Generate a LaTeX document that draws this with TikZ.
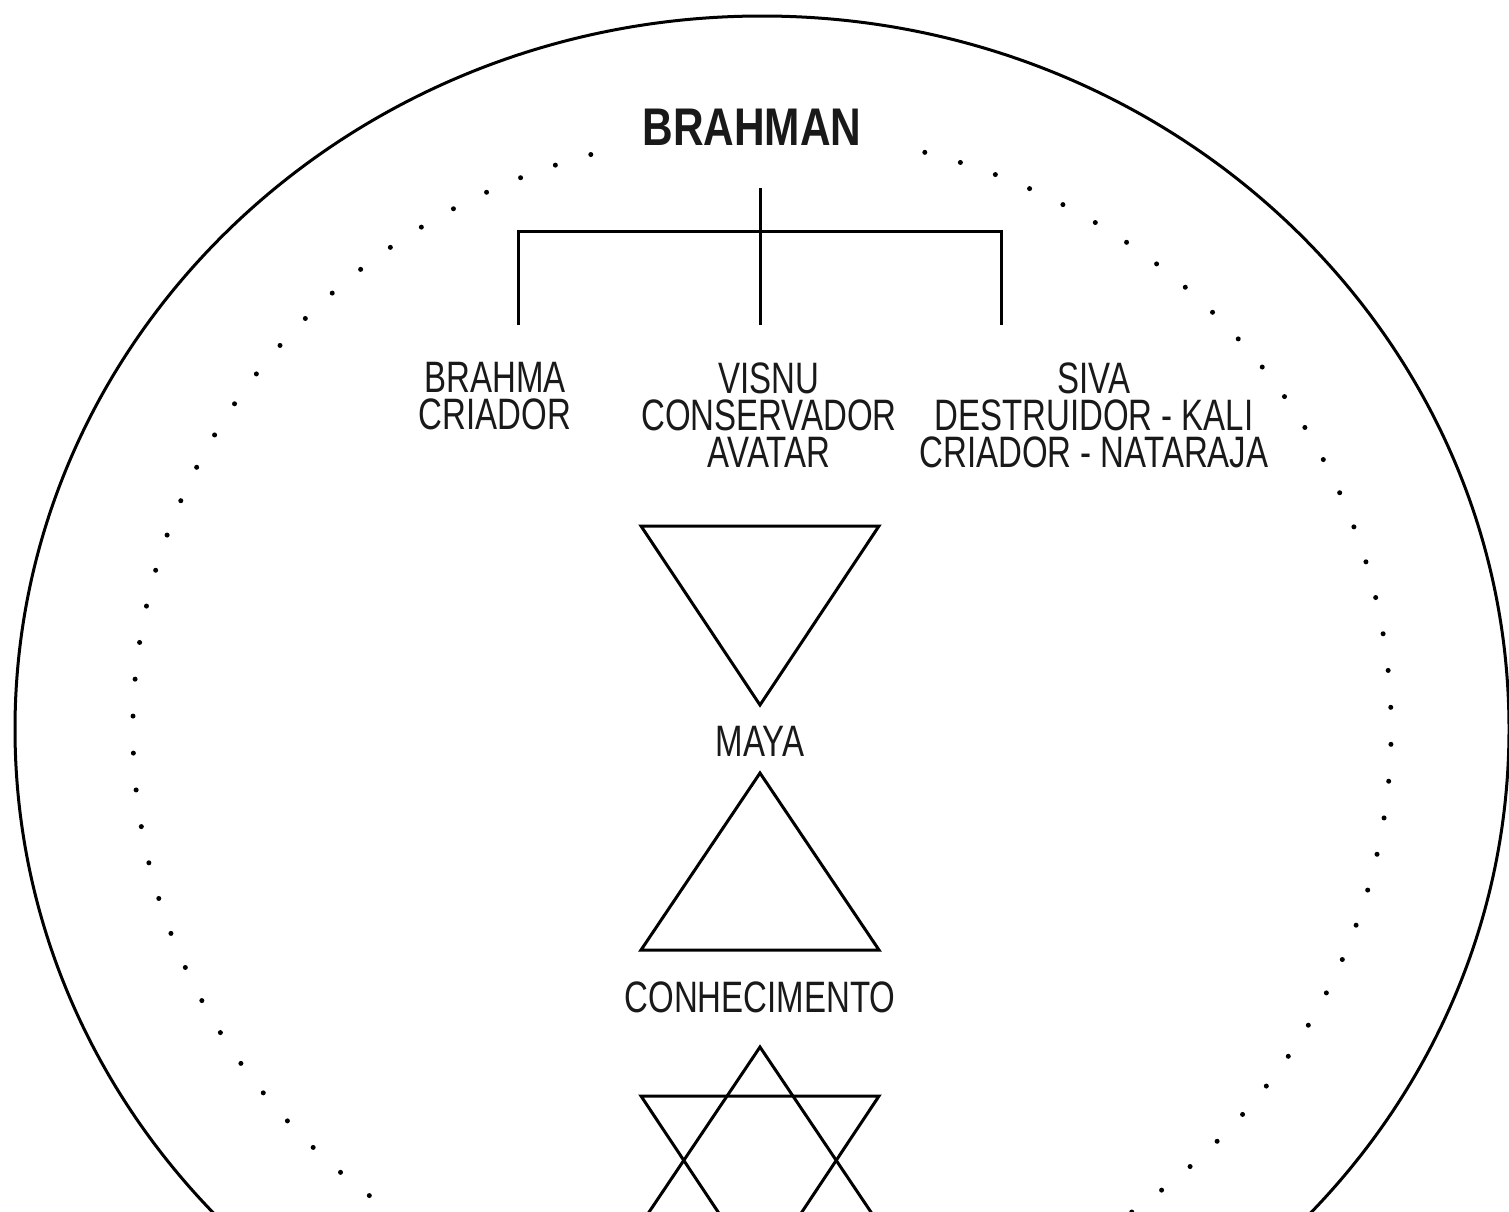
\documentclass[tikz,border=0pt]{standalone}
\usepackage{fontspec}
\setmainfont{Liberation Sans}
\newfontfamily\condfont[FakeStretch=0.75]{Liberation Sans}
\newfontfamily\condbold[FakeStretch=0.8]{Liberation Sans}
\begin{document}
\begin{tikzpicture}[x=1pt,y=-1pt,
  lbl/.style={font=\condfont\fontsize{44}{37}\selectfont, align=center, inner sep=0pt, text=black!90},
  ttl/.style={font=\condbold\bfseries\fontsize{53}{53}\selectfont, inner sep=0pt, text=black!90},
  ln/.style={line width=3pt},
  dotline/.style={line width=5pt, line cap=round, dash pattern=on 0pt off 37pt},
  tri/.style={line width=3pt, line join=miter}]
\useasboundingbox (0,0) rectangle (1509,1211);
\clip (0,0) rectangle (1509,1211);
\fill[white] (0,0) rectangle (1509,1211);
% outer ellipse
\draw[line width=3pt] (762,729) ellipse[x radius=747, y radius=713];
% dotted inner ellipse, open at the top behind the title
\draw[dotline] (762,729) ++(285:629 and 597)
  arc[start angle=285, end angle=616, x radius=629, y radius=597];
% title and labels
\node[ttl] (brahman) at (752,127) {BRAHMAN};
\node[lbl] (brahma) at (495,396) {BRAHMA\\CRIADOR};
\node[lbl] (visnu) at (769,415) {VISNU\\CONSERVADOR\\AVATAR};
\node[lbl] (siva) at (1094,415) {SIVA\\DESTRUIDOR - KALI\\CRIADOR - NATARAJA};
\node[lbl] (maya) at (760,741) {MAYA};
\node[lbl] (conh) at (760,997) {CONHECIMENTO};
% tree
\coordinate (top) at (760,188);
\coordinate (barL) at (518,231);
\coordinate (barR) at (1001,231);
\coordinate (endL) at (518,325);
\coordinate (endM) at (760,325);
\coordinate (endR) at (1001,325);
\draw[ln] (top) -- (endM);
\draw[ln] (endL) -- (barL) -- (barR) -- (endR);
% triangles
\draw[tri] (641,526) -- (879,526) -- (760,705) -- cycle;
\draw[tri] (760,773) -- (879,950) -- (641,950) -- cycle;
% star
\draw[tri] (760,1047) -- (879,1224) -- (641,1224) -- cycle;
\draw[tri] (641,1096) -- (879,1096) -- (760,1275) -- cycle;
\end{tikzpicture}
\end{document}
